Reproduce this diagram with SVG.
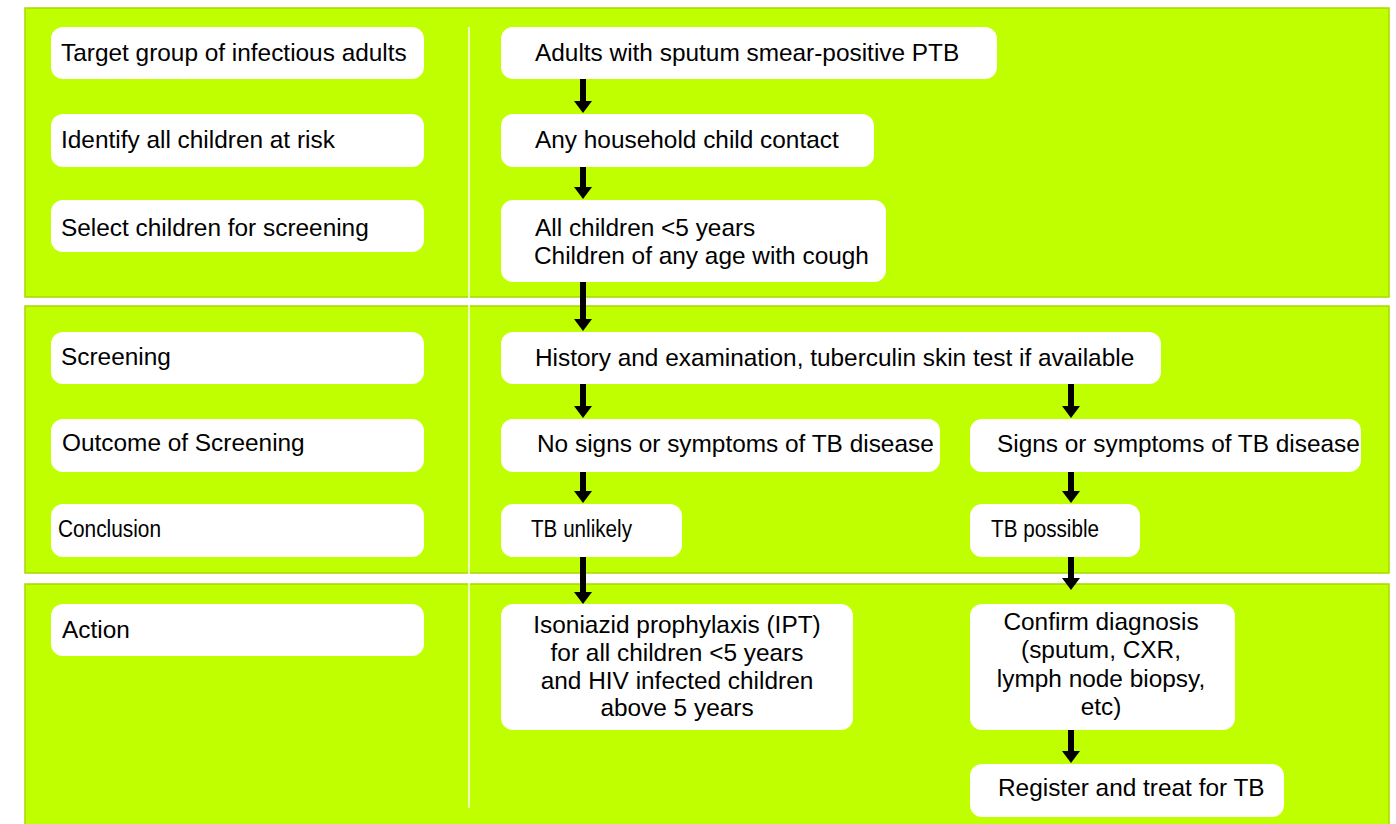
<svg xmlns="http://www.w3.org/2000/svg" width="1396" height="824" viewBox="0 0 1396 824">
<defs>
<style>
.panel{fill:#C0FF00;stroke:#A8D800;stroke-width:1.5}
.box{fill:#FFFFFF}
.t{font-family:"Liberation Sans",Arial,sans-serif;font-size:24.4px;fill:#000}
.n{font-family:"Liberation Sans",Arial,sans-serif;font-size:23px;fill:#000}
.c{text-anchor:middle}
.arr{stroke:#000;stroke-width:6;fill:none;marker-end:url(#ah)}
</style>
<marker id="ah" markerUnits="userSpaceOnUse" markerWidth="14" markerHeight="20" viewBox="0 -10 14 20" refX="0" refY="0" orient="auto">
<path d="M0,-9 L12,0 L0,9 Z" fill="#000"/>
</marker>
</defs>
<rect width="1396" height="824" fill="#FFFFFF"/>
<g id="panels">
<rect class="panel" x="25" y="8" width="1364" height="289"/>
<rect class="panel" x="25" y="306" width="1364" height="267"/>
<rect class="panel" x="25" y="584" width="1364" height="250"/>
<line x1="469" y1="27" x2="469" y2="808" stroke="#FFFFFF" stroke-width="1.5"/>
</g>
<g id="n-target"><rect class="box" x="51" y="27" width="373" height="52" rx="12"/><text class="t" x="61" y="61">Target group of infectious adults</text></g>
<g id="n-identify"><rect class="box" x="51" y="114" width="373" height="53" rx="12"/><text class="t" x="61" y="148">Identify all children at risk</text></g>
<g id="n-select"><rect class="box" x="51" y="200" width="373" height="52" rx="12"/><text class="t" x="61" y="236">Select children for screening</text></g>
<g id="n-screening"><rect class="box" x="51" y="332" width="373" height="52" rx="12"/><text class="t" x="61" y="365">Screening</text></g>
<g id="n-outcome"><rect class="box" x="51" y="419" width="373" height="53" rx="12"/><text class="t" x="62" y="451">Outcome of Screening</text></g>
<g id="n-conclusion"><rect class="box" x="51" y="504" width="373" height="53" rx="12"/><text class="n" x="58" y="537" textLength="103" lengthAdjust="spacingAndGlyphs">Conclusion</text></g>
<g id="n-action"><rect class="box" x="51" y="604" width="373" height="52" rx="12"/><text class="t" x="62" y="638">Action</text></g>
<g id="n-adults"><rect class="box" x="501" y="27" width="496" height="52" rx="12"/><text class="t" x="535" y="61">Adults with sputum smear-positive PTB</text></g>
<g id="n-household"><rect class="box" x="501" y="114" width="373" height="53" rx="12"/><text class="t" x="535" y="148">Any household child contact</text></g>
<g id="n-children"><rect class="box" x="501" y="200" width="385" height="82" rx="12"/><text class="t" x="535" y="236">All children &lt;5 years</text><text class="t" x="534" y="264">Children of any age with cough</text></g>
<g id="n-history"><rect class="box" x="501" y="332" width="660" height="52" rx="12"/><text class="t" x="535" y="366">History and examination, tuberculin skin test if available</text></g>
<g id="n-nosigns"><rect class="box" x="501" y="419" width="439" height="53" rx="12"/><text class="t" x="537" y="452">No signs or symptoms of TB disease</text></g>
<g id="n-signs"><rect class="box" x="970" y="419" width="391" height="53" rx="12"/><text class="t" x="997" y="452">Signs or symptoms of TB disease</text></g>
<g id="n-unlikely"><rect class="box" x="501" y="504" width="181" height="53" rx="12"/><text class="n" x="531" y="537" textLength="101" lengthAdjust="spacingAndGlyphs">TB unlikely</text></g>
<g id="n-possible"><rect class="box" x="970" y="504" width="170" height="53" rx="12"/><text class="n" x="991" y="537" textLength="108" lengthAdjust="spacingAndGlyphs">TB possible</text></g>
<g id="n-ipt"><rect class="box" x="501" y="604" width="352" height="126" rx="12"/><text class="t c" x="677" y="633">Isoniazid prophylaxis (IPT)</text><text class="t c" x="677" y="661">for all children &lt;5 years</text><text class="t c" x="677" y="689">and HIV infected children</text><text class="t c" x="677" y="716">above 5 years</text></g>
<g id="n-confirm"><rect class="box" x="970" y="604" width="265" height="126" rx="12"/><text class="t c" x="1101" y="630">Confirm diagnosis</text><text class="t c" x="1101" y="658">(sputum, CXR,</text><text class="t c" x="1101" y="687">lymph node biopsy,</text><text class="t c" x="1101" y="715">etc)</text></g>
<g id="n-register"><rect class="box" x="970" y="764" width="314" height="53" rx="12"/><text class="t" x="998" y="796">Register and treat for TB</text></g>
<g id="connectors">
<line class="arr" x1="583" y1="79" x2="583" y2="101"/>
<line class="arr" x1="583" y1="167" x2="583" y2="187"/>
<line class="arr" x1="583" y1="282" x2="583" y2="319"/>
<line class="arr" x1="583" y1="384" x2="583" y2="406"/>
<line class="arr" x1="1071" y1="384" x2="1071" y2="406"/>
<line class="arr" x1="583" y1="472" x2="583" y2="491"/>
<line class="arr" x1="1071" y1="472" x2="1071" y2="491"/>
<line class="arr" x1="583" y1="557" x2="583" y2="592"/>
<line class="arr" x1="1071" y1="557" x2="1071" y2="578"/>
<line class="arr" x1="1071" y1="730" x2="1071" y2="751"/>
</g>
</svg>
